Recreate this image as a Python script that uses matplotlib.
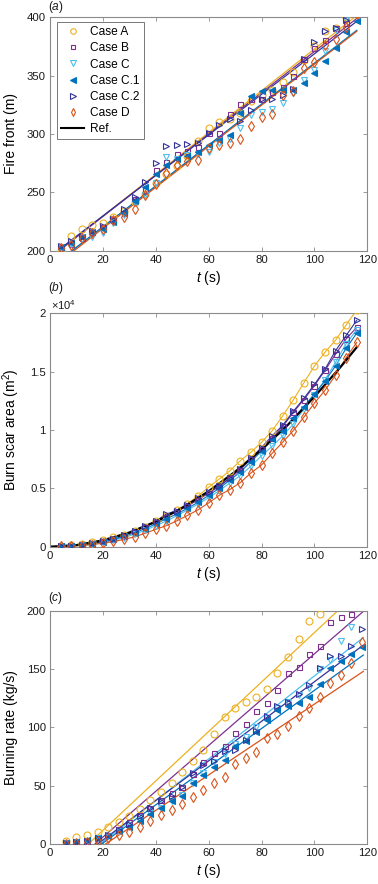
import matplotlib
matplotlib.use("Agg")
import matplotlib.pyplot as plt
from matplotlib.lines import Line2D
import numpy as np

plt.rcParams['font.family'] = ['Liberation Sans', 'DejaVu Sans']
plt.rcParams['mathtext.fontset'] = 'custom'
plt.rcParams['mathtext.rm'] = 'Liberation Sans'
plt.rcParams['mathtext.it'] = 'Liberation Sans:italic'

# ---------------- data ----------------
cases = ["Case A", "Case B", "Case C", "Case C.1", "Case C.2", "Case D"]

t_a = [4, 8, 12, 16, 20, 24, 28, 32, 36, 40, 44, 48, 52, 56, 60, 64, 68, 72, 76, 80,
       84, 88, 92, 96, 100, 104, 108, 112, 116]
front_A = [200, 212.6, 218.6, 222, 224, 229, 234, 242, 249, 258, 266, 273, 281, 293.7, 304.9,
           310.5, 313, 317.7, 328, 333, 338, 344.8, 352.9, 363, 375, 388, 391, 400, 408]
front_B = [203, 206, 211, 216, 220, 226, 232, 244, 252, 269, 276, 283, 285.7, 289, 300.6,
           300.6, 316.9, 325.4, 330, 329.8, 336, 340, 350, 364, 374, 380.5, 390.6, 395, 405]
front_C = [202, 206, 210, 212, 214.9, 224, 231, 241, 248, 258, 280.6, 279, 282, 283, 285,
           292, 296, 305.4, 316.6, 319, 321.4, 326.3, 335, 346, 355, 371, 389, 398.5, 405]
front_C1 = [203, 207, 211.5, 216, 219, 225, 232, 243, 254.6, 266, 273.5, 279, 281, 285, 291,
            295, 299, 318, 332.6, 336.8, 337.7, 338, 337.7, 344, 352.6, 362.6, 374, 387, 396.8]
front_C2 = [204, 208, 212, 217, 221, 227, 236, 246, 259, 274.9, 289.7, 290.6, 291.5, 292.6, 300.6,
            308, 313, 311, 320.6, 330, 329.7, 333.4, 338.3, 364, 378.6, 388, 390.6, 398, 406]
front_D = [202, 205, 211, 215, 219, 226, 228.6, 235.4, 247.7, 257, 266.3, 273.4, 277, 278, 287.7,
           290.6, 292, 295.7, 306.9, 314.8, 316.9, 333, 337, 356.3, 362, 376, 381.4, 392, 403]
# linear fit lines (start/end) for fire front
front_fit_t = [4, 116]
front_fit = {
    "Case A": [201, 401.5], "Case B": [201, 399], "Case C": [192, 389],
    "Case C.1": [192.5, 388.5], "Case C.2": [202, 396.5], "Case D": [191, 388],
}

# burn scar area, in units of 10^4 m^2
area_A = [0.005, 0.011, 0.023, 0.04, 0.058, 0.08, 0.103, 0.137, 0.172, 0.217, 0.26, 0.315, 0.37,
          0.434, 0.51, 0.58, 0.65, 0.737, 0.81, 0.894, 0.994, 1.12, 1.257, 1.405, 1.548, 1.666,
          1.77, 1.90, 2.03]
area_B = [0.003, 0.007, 0.016, 0.028, 0.045, 0.068, 0.095, 0.13, 0.17, 0.21, 0.255, 0.30, 0.35,
          0.40, 0.46, 0.515, 0.585, 0.66, 0.75, 0.84, 0.93, 1.03, 1.15, 1.26, 1.38, 1.51, 1.65,
          1.78, 1.88]
area_C = [0.002, 0.005, 0.012, 0.022, 0.036, 0.055, 0.078, 0.107, 0.14, 0.18, 0.22, 0.265, 0.315,
          0.365, 0.42, 0.48, 0.545, 0.61, 0.69, 0.78, 0.86, 0.95, 1.05, 1.18, 1.30, 1.43, 1.58,
          1.74, 1.86]
area_C1 = [0.002, 0.006, 0.014, 0.025, 0.04, 0.062, 0.088, 0.12, 0.155, 0.195, 0.24, 0.28, 0.33,
           0.38, 0.44, 0.50, 0.57, 0.64, 0.73, 0.82, 0.92, 0.99, 1.10, 1.20, 1.31, 1.42, 1.55,
           1.70, 1.83]
area_C2 = [0.003, 0.008, 0.017, 0.03, 0.048, 0.07, 0.10, 0.135, 0.175, 0.22, 0.28, 0.31, 0.36,
           0.42, 0.47, 0.52, 0.59, 0.67, 0.76, 0.85, 0.95, 1.04, 1.16, 1.27, 1.39, 1.52, 1.68,
           1.81, 1.94]
area_D = [0.002, 0.005, 0.01, 0.018, 0.03, 0.045, 0.062, 0.085, 0.115, 0.149, 0.18, 0.222, 0.268,
          0.316, 0.375, 0.44, 0.49, 0.55, 0.632, 0.70, 0.80, 0.895, 0.995, 1.11, 1.23, 1.34, 1.47,
          1.62, 1.75]
ref_t = [0, 10, 20, 30, 40, 50, 60, 70, 80, 90, 100, 110, 116]
ref_area = [0, 0.0137, 0.0544, 0.1215, 0.2144, 0.3325, 0.475, 0.642, 0.832, 1.045, 1.285,
            1.543, 1.709]

# burning rate
t_c = [6, 10, 14, 18, 22, 26, 30, 34, 38, 42, 46, 50, 54, 58, 62, 66, 70, 74, 78, 82, 86,
       90, 94, 98, 102, 106, 110, 114, 118]
rate_A = [2.6, 5.7, 8, 10.6, 14.3, 18.6, 24, 30.3, 37.7, 44.3, 52, 62, 71, 81, 94, 108.6, 117,
          122, 125.7, 133, 147, 160.6, 175.7, 191, 197, 210, 220, 230, 240]
rate_B = [1, 2, 3, 5, 8, 13, 19, 25, 31, 38, 44, 49, 60, 70, 78, 84, 95, 103, 114, 121, 132,
          147, 152, 163, 170, 190, 195, 197, 208]
rate_C = [1, 2, 3, 5, 7, 11, 15, 21, 27, 31, 37, 42, 52, 61, 70, 77, 86, 92, 100, 108, 117,
          122, 128, 134, 150, 158, 174, 186, 206]
rate_C1 = [1, 2, 3.5, 5, 7, 11, 15, 20, 26, 31, 37, 41, 52, 59, 66, 72, 84, 88, 96, 106, 115,
           118, 121, 126, 137, 151, 157, 163, 169]
rate_C2 = [1, 2, 3, 5, 8, 12, 17, 24, 31, 37, 41, 49, 61, 68, 71, 80, 81, 89, 97, 110, 118,
           122, 129, 136, 151, 161, 161, 170, 184]
rate_D = [0, 1, 2, 3, 5, 7.7, 10.6, 14.9, 20, 25, 29, 34, 40, 46, 52.6, 57.7, 68.6, 74, 79,
          90.6, 94, 101, 109.7, 117, 125.7, 138, 145, 155, 173]
# linear fit lines: (t_start, t_end) and (rate_start, rate_end)
rate_fit = {
    "Case A": ([14.5, 118], [0, 219.4]), "Case B": ([17, 118.5], [0, 199.4]),
    "Case C": ([19, 118.5], [0, 177]), "Case C.1": ([19.5, 118.5], [0, 162]),
    "Case C.2": ([18, 118.5], [0, 170.5]), "Case D": ([21, 118.5], [0, 148]),
}

front = dict(zip(cases, [front_A, front_B, front_C, front_C1, front_C2, front_D]))
area = dict(zip(cases, [area_A, area_B, area_C, area_C1, area_C2, area_D]))
rate = dict(zip(cases, [rate_A, rate_B, rate_C, rate_C1, rate_C2, rate_D]))

# ---------------- style ----------------
colors = {"Case A": "#EDB120", "Case B": "#7E2F8E", "Case C": "#4DBEEE",
          "Case C.1": "#0072BD", "Case C.2": "#333399", "Case D": "#D95319"}
markers = {"Case A": "o", "Case B": "s", "Case C": "v", "Case C.1": "<",
           "Case C.2": ">", "Case D": "d"}
msizes = {"Case A": 5, "Case B": 3.6, "Case C": 5, "Case C.1": 5, "Case C.2": 5, "Case D": 5}
filled = {"Case C.1"}

fig = plt.figure(figsize=(3.78, 8.84), dpi=100)
W, H = 378, 884
def add_ax(top, bottom):
    return fig.add_axes([50 / W, 1 - bottom / H, (367.3 - 50) / W, (bottom - top) / H])

ax_a = add_ax(17.3, 250.7)
ax_b = add_ax(313.3, 546.7)
ax_c = add_ax(610.7, 844.0)

spine_col = "#8a8a8a"
for ax in (ax_a, ax_b, ax_c):
    for s in ax.spines.values():
        s.set_color(spine_col)
        s.set_linewidth(0.8)
    ax.tick_params(direction="in", top=True, right=True, length=3, width=0.6,
                   color=spine_col, labelsize=8.2, labelcolor="#1a1a1a", pad=3)
    ax.set_xlim(0, 120)
    ax.set_xticks([0, 20, 40, 60, 80, 100, 120])
    ax.set_xlabel(r"$t$ (s)", fontsize=10, labelpad=3)

def mk(ax, t, y, c, zorder=3, label=None):
    col = colors[c]
    ax.plot(t, y, linestyle="none", marker=markers[c], ms=msizes[c],
            mfc=col if c in filled else "none", mec=col, mew=0.8,
            zorder=zorder, label=label)

# panel a
for c in cases:
    ax_a.plot(front_fit_t, front_fit[c], color=colors[c], lw=0.9, zorder=2)
for c in cases:
    mk(ax_a, t_a, front[c], c, label=c)
ax_a.set_ylim(200, 400)
ax_a.set_yticks([200, 250, 300, 350, 400])
ax_a.set_ylabel("Fire front (m)", fontsize=10, labelpad=6)
handles = []
for c in cases:
    col = colors[c]
    handles.append(Line2D([], [], linestyle="none", marker=markers[c], ms=msizes[c] * 0.8,
                          mfc=col if c in filled else "none", mec=col, mew=0.8))
handles.append(Line2D([], [], color="black", lw=1.5))
leg = ax_a.legend(handles, cases + ["Ref."], loc="upper left", bbox_to_anchor=(0.015, 0.99),
                  fontsize=8.6, frameon=True, fancybox=False, edgecolor="#555555",
                  handlelength=1.9, handletextpad=0.5, labelspacing=0.35, borderpad=0.35,
                  borderaxespad=0.2, numpoints=1)
leg.get_frame().set_linewidth(0.7)

# panel b
for c in cases:
    ax_b.plot(t_a, area[c], color=colors[c], lw=0.8, zorder=2)
ax_b.plot(ref_t, ref_area, color="black", lw=1.6, zorder=2.5)
for c in cases:
    mk(ax_b, t_a, area[c], c)
ax_b.set_ylim(0, 2)
ax_b.set_yticks([0, 0.5, 1, 1.5, 2])
ax_b.set_yticklabels(["0", "0.5", "1", "1.5", "2"])
ax_b.set_ylabel(r"Burn scar area (m$^2$)", fontsize=10, labelpad=6)
fig.text(51 / W, 1 - 305 / H, r"$\times$10$^4$", fontsize=8, va="center", ha="left",
         color="#1a1a1a")

# panel c
for c in cases:
    ax_c.plot(rate_fit[c][0], rate_fit[c][1], color=colors[c], lw=0.9, zorder=2)
for c in cases:
    mk(ax_c, t_c, rate[c], c)
ax_c.set_ylim(0, 200)
ax_c.set_yticks([0, 50, 100, 150, 200])
ax_c.set_ylabel("Burning rate (kg/s)", fontsize=10, labelpad=6)

# panel letters
for lab, y in (("a", 7), ("b", 288), ("c", 598)):
    fig.text(48 / W, 1 - y / H, r"($" + lab + "$)", fontsize=8.6, va="center", ha="left",
             color="#1a1a1a")

fig.savefig("out.png", dpi=100)
